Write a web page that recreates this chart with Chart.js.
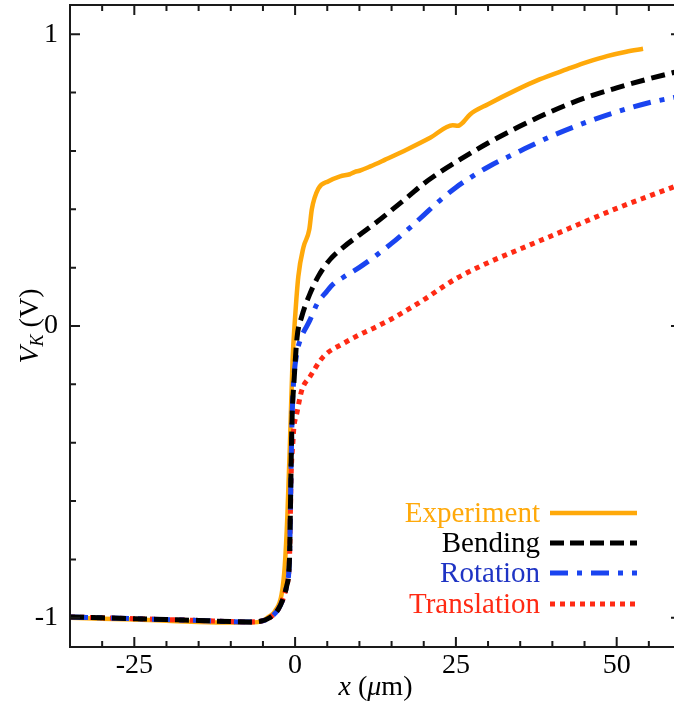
<!DOCTYPE html>
<html>
<head>
<meta charset="utf-8">
<script src="https://cdn.jsdelivr.net/npm/chart.js@4.4.1/dist/chart.umd.min.js"></script>
<style>
  html, body { margin: 0; padding: 0; background: #fff; overflow: hidden; }
  #wrap { position: absolute; left: 0; top: 0; width: 700px; height: 706px; }
</style>
</head>
<body>
<div id="wrap"><canvas id="chart"></canvas></div>
<script>
// Experiment (measured)
const expX = [-35, -30, -25, -20, -15, -10, -7, -5, -4, -3.1, -2.1, -1.6, -1.2, -0.8, -0.4, 0, 0.5, 1.3, 2.2, 2.6, 3.6, 5.2, 7.0, 8.5, 9.3, 10, 11.7, 14, 17.4, 21, 24.5, 25.3, 26.2, 27.2, 30, 34.5, 38, 42.3, 45.5, 48.5, 51.5, 54.1];
const expY = [-1.0, -1.003, -1.006, -1.01, -1.014, -1.016, -1.016, -1.01, -0.995, -0.976, -0.92, -0.82, -0.65, -0.4, -0.12, 0.03, 0.17, 0.27, 0.33, 0.40, 0.47, 0.496, 0.513, 0.52, 0.528, 0.532, 0.547, 0.57, 0.605, 0.645, 0.688, 0.686, 0.70, 0.725, 0.76, 0.81, 0.845, 0.88, 0.905, 0.925, 0.94, 0.95];

// Bending model
const bendX = [-35, -30, -25, -20, -15, -10, -7, -5.4, -3.9, -2.6, -1.8, -1.3, -1.0, -0.85, -0.6, -0.45, -0.2, 0.3, 1.0, 2.3, 3.6, 5.4, 7.5, 10, 12.5, 15, 17.5, 20, 22.5, 25, 30, 35, 40, 45, 50, 55, 60];
const bendY = [-0.997, -1.0, -1.003, -1.006, -1.009, -1.013, -1.014, -1.012, -0.999, -0.97, -0.93, -0.89, -0.85, -0.78, -0.45, -0.3, -0.2, -0.04, 0.03, 0.11, 0.17, 0.227, 0.27, 0.312, 0.353, 0.397, 0.442, 0.488, 0.527, 0.562, 0.627, 0.685, 0.737, 0.781, 0.816, 0.847, 0.875];

// Rotation model
const rotX = [-35, -30, -25, -20, -15, -10, -7, -5.4, -3.9, -2.6, -1.8, -1.3, -1.0, -0.85, -0.6, -0.45, -0.2, 0.3, 0.8, 2.3, 3.4, 4.9, 6.0, 7.5, 10, 12.5, 15, 17.5, 20, 22.5, 25, 27.5, 30, 35, 40, 45, 50, 55, 60];
const rotY = [-0.997, -1.0, -1.003, -1.006, -1.009, -1.013, -1.014, -1.012, -0.999, -0.97, -0.93, -0.89, -0.85, -0.78, -0.45, -0.3, -0.18, -0.09, -0.048, 0.02, 0.075, 0.118, 0.145, 0.167, 0.201, 0.24, 0.283, 0.33, 0.38, 0.43, 0.475, 0.512, 0.545, 0.6, 0.652, 0.696, 0.734, 0.765, 0.788];

// Translation model
const transX = [-35, -30, -25, -20, -15, -10, -7, -5.4, -3.9, -2.6, -1.8, -1.3, -1.0, -0.85, -0.6, -0.35, -0.2, 0.26, 1.04, 2.3, 4.4, 7.5, 10, 12.5, 15, 17.5, 20, 22.5, 25, 30, 35, 40, 45, 50, 55, 60];
const transY = [-0.997, -1.0, -1.003, -1.006, -1.009, -1.013, -1.014, -1.012, -0.999, -0.97, -0.93, -0.89, -0.85, -0.78, -0.5, -0.4, -0.35, -0.30, -0.22, -0.174, -0.105, -0.06, -0.03, -0.004, 0.024, 0.056, 0.09, 0.127, 0.162, 0.217, 0.264, 0.31, 0.357, 0.403, 0.445, 0.486];

// axis ticks
const xMajorTicks = [-25, 0, 25, 50];
const xMinorTicks = [-30, -20, -15, -10, -5, 5, 10, 15, 20, 30, 35, 40, 45, 55];
const yMajorTicks = [-1, 0, 1];
const yMinorTicks = [-0.8, -0.6, -0.4, -0.2, 0.2, 0.4, 0.6, 0.8];

const legendLabels = ["Experiment", "Bending", "Rotation", "Translation"];

const FONT = "'Liberation Serif', 'Times New Roman', serif";
const ORANGE = "#FFA90A";
const BLACK = "#000000";
const BLUE = "#1a44f0";
const RED = "#ff2a14";

const pts = (xs, ys) => xs.map((x, i) => ({ x: x, y: ys[i] }));

// legend sample styles, same as the lines
const legendStyles = [
  { color: ORANGE, text: ORANGE, dash: [] },
  { color: BLACK, text: BLACK, dash: [14, 6] },
  { color: BLUE, text: "#1f34c4", dash: [18, 9, 5, 9] },
  { color: RED, text: RED, dash: [5, 5] },
];

function drawRich(ctx, parts, cx, baseline) {
  let total = 0;
  parts.forEach((p) => {
    ctx.font = p.font;
    p.w = ctx.measureText(p.text).width;
    total += p.w;
  });
  let x = cx - total / 2;
  parts.forEach((p) => {
    ctx.font = p.font;
    ctx.fillText(p.text, x, baseline + (p.dy || 0));
    x += p.w;
  });
}

const framePlugin = {
  id: "frame",
  afterDatasetsDraw(chart) {
    const { ctx, chartArea: a, scales } = chart;
    const xs = scales.x, ys = scales.y;
    ctx.save();
    ctx.strokeStyle = "#1a1a1a";
    ctx.lineWidth = 2;
    ctx.setLineDash([]);
    ctx.strokeRect(a.left, a.top, a.right - a.left, a.bottom - a.top);

    // inward ticks on all four sides
    ctx.beginPath();
    const xTick = (v, len) => {
      const p = xs.getPixelForValue(v);
      ctx.moveTo(p, a.bottom); ctx.lineTo(p, a.bottom - len);
      ctx.moveTo(p, a.top); ctx.lineTo(p, a.top + len);
    };
    const yTick = (v, len) => {
      const p = ys.getPixelForValue(v);
      ctx.moveTo(a.left, p); ctx.lineTo(a.left + len, p);
      ctx.moveTo(a.right, p); ctx.lineTo(a.right - len, p);
    };
    xMajorTicks.forEach((v) => xTick(v, 10));
    xMinorTicks.forEach((v) => xTick(v, 6));
    yMajorTicks.forEach((v) => yTick(v, 10));
    yMinorTicks.forEach((v) => yTick(v, 6));
    ctx.stroke();

    // axis titles
    ctx.fillStyle = "#000";
    ctx.textAlign = "left";
    ctx.textBaseline = "alphabetic";
    drawRich(ctx, [
      { text: "x", font: "italic 28px " + FONT },
      { text: " (", font: "28px " + FONT },
      { text: "\u03bc", font: "italic 28px " + FONT },
      { text: "m)", font: "28px " + FONT },
    ], (a.left + a.right) / 2, 695);

    ctx.save();
    ctx.translate(38, (a.top + a.bottom) / 2);
    ctx.rotate(-Math.PI / 2);
    drawRich(ctx, [
      { text: "V", font: "italic 28px " + FONT },
      { text: "K", font: "italic 18px " + FONT, dy: 5 },
      { text: " (V)", font: "28px " + FONT },
    ], 0, 0);
    ctx.restore();

    // legend, text right aligned with line sample after it
    const baselines = [522, 552, 582, 613];
    ctx.font = "29px " + FONT;
    ctx.textAlign = "right";
    legendLabels.forEach((label, i) => {
      const st = legendStyles[i];
      ctx.fillStyle = st.text;
      ctx.fillText(label, 540, baselines[i]);
      ctx.beginPath();
      ctx.strokeStyle = st.color;
      ctx.lineWidth = i === 0 ? 4.5 : 5;
      ctx.setLineDash(st.dash);
      ctx.moveTo(550, baselines[i] - 9);
      ctx.lineTo(637, baselines[i] - 9);
      ctx.stroke();
    });
    ctx.restore();
  },
};

// drop the label overhang padding so the plot box is set by layout.padding only
function noOverhang(s) {
  s.paddingTop = 0;
  s.paddingBottom = 0;
  s.paddingLeft = 0;
  s.paddingRight = 0;
}

const ctx = document.getElementById("chart").getContext("2d");

new Chart(ctx, {
  type: "line",
  data: {
    datasets: [
      {
        label: "Experiment",
        data: pts(expX, expY),
        borderColor: ORANGE,
        borderWidth: 4.5,
        order: 4,
      },
      {
        label: "Bending",
        data: pts(bendX, bendY),
        borderColor: BLACK,
        borderWidth: 5,
        borderDash: [14, 7],
        order: 1,
      },
      {
        label: "Rotation",
        data: pts(rotX, rotY),
        borderColor: BLUE,
        borderWidth: 5,
        borderDash: [18, 9, 5, 9],
        order: 2,
      },
      {
        label: "Translation",
        data: pts(transX, transY),
        borderColor: RED,
        borderWidth: 5,
        borderDash: [5, 5],
        order: 3,
      },
    ],
  },
  options: {
    responsive: true,
    maintainAspectRatio: false,
    animation: false,
    layout: { padding: { top: 5, right: 19, left: 0, bottom: 0 } },
    elements: {
      point: { radius: 0, hoverRadius: 0 },
      line: { cubicInterpolationMode: "monotone", fill: false },
    },
    plugins: {
      legend: { display: false },
      tooltip: { enabled: false },
    },
    scales: {
      x: {
        type: "linear",
        min: -35,
        max: 60,
        grid: { display: false, drawTicks: false },
        border: { display: false },
        afterBuildTicks: (s) => { s.ticks = xMajorTicks.map((v) => ({ value: v })); },
        afterFit: (s) => { s.height = 59; noOverhang(s); },
        ticks: {
          font: { family: FONT, size: 28 },
          color: "#000",
          padding: 2,
          maxRotation: 0,
          autoSkip: false,
        },
      },
      y: {
        type: "linear",
        min: -1.1,
        max: 1.1,
        grid: { display: false, drawTicks: false },
        border: { display: false },
        afterBuildTicks: (s) => { s.ticks = yMajorTicks.map((v) => ({ value: v })); },
        afterFit: (s) => { s.width = 70; noOverhang(s); },
        ticks: {
          font: { family: FONT, size: 28 },
          color: "#000",
          padding: 12,
        },
      },
    },
  },
  plugins: [framePlugin],
});
</script>
</body>
</html>
